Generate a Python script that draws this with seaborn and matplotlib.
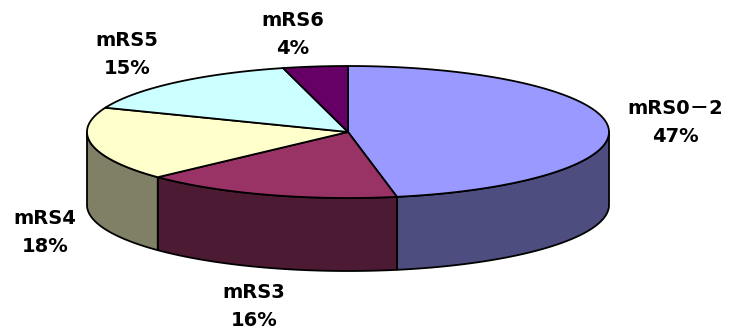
import numpy as np
import matplotlib
matplotlib.use("Agg")
import matplotlib.pyplot as plt
import seaborn as sns

# mRS outcome distribution
categories = ["mRS0－2", "mRS3", "mRS4", "mRS5", "mRS6"]
shares = [47, 16, 18, 15, 4]
top_colors = ["#9999FF", "#993366", "#FFFFCC", "#CCFFFF", "#660066"]
label_x = [675, 254, 45, 127, 293]
label_y = [108, 293, 218, 41, 21]

sns.set_theme(style="white")
plt.rcParams["font.family"] = ["DejaVu Sans", "Noto Sans CJK JP"]

# Disc geometry in pixel units: centre, radii and wall height
CX, CY, RX, RY, DEPTH = 348, 132, 261, 66, 73
LINE = dict(edgecolor="black", linewidth=1.3, joinstyle="round")


def rim(t):
    """Point on the top ellipse; t runs clockwise from 12 o'clock, in radians."""
    return CX + RX * np.sin(t), CY - RY * np.cos(t)


def shade(color):
    r, g, b = matplotlib.colors.to_rgb(color)
    return (r / 2, g / 2, b / 2)


fig = plt.figure(figsize=(7.32, 3.33), dpi=100)
ax = fig.add_axes([0, 0, 1, 1])
ax.set_xlim(0, 732)
ax.set_ylim(333, 0)
ax.axis("off")

edges = np.radians(np.concatenate([[0], np.cumsum(shares)]) * 3.6)

# Outer walls, only on the near half of the disc
for start, stop, color in zip(edges[:-1], edges[1:], top_colors):
    lo, hi = max(start, np.pi / 2), min(stop, 3 * np.pi / 2)
    if lo >= hi:
        continue
    t = np.linspace(lo, hi, 120)
    x, y = rim(t)
    ax.fill(np.r_[x, x[::-1]], np.r_[y, y[::-1] + DEPTH],
            facecolor=shade(color), **LINE)

# Top faces of the slices
for start, stop, color in zip(edges[:-1], edges[1:], top_colors):
    t = np.linspace(start, stop, 160)
    x, y = rim(t)
    ax.fill(np.r_[CX, x], np.r_[CY, y], facecolor=color, **LINE)

# Two-line labels: category over percentage
for name, share, lx, ly in zip(categories, shares, label_x, label_y):
    style = dict(ha="center", va="center", fontsize=14, fontweight="bold", color="black")
    ax.text(lx, ly, name, **style)
    ax.text(lx, ly + 28, f"{share}%", **style)

fig.savefig("out.png", dpi=100, facecolor="white")
